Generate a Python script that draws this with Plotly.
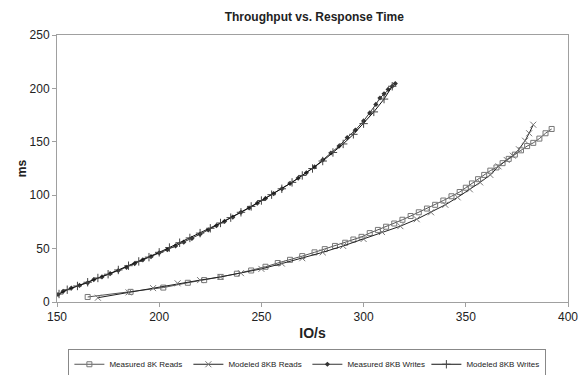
import plotly.graph_objects as go

# Measured 8K Reads
mr_x = [165, 186, 202, 214, 222, 230, 238, 245, 252, 258, 264, 270, 276, 281, 286, 291, 295, 299,
        303, 307, 311, 315, 319, 323, 327, 331, 335, 339, 343, 347, 350, 353, 356, 359, 362, 365,
        368, 371, 374, 377, 380, 383, 386, 389, 392]
mr_y = [4.7, 9.5, 13.5, 18, 20.5, 23.5, 26.5, 29.5, 33, 36.5, 39.5, 43, 46.5, 49.5, 52.5, 55.5, 58.5, 61,
        64.5, 67.5, 70.5, 73.5, 77, 80.5, 84, 87.5, 91, 95, 99, 103, 107, 111, 115, 119, 123, 126,
        130, 134, 138, 142, 146, 149, 153, 158, 162]

# Modeled 8KB Reads
mdr_x = [170, 185, 197, 209, 220, 230, 240, 250, 260, 270, 280, 290, 300, 309, 318, 326, 333, 340,
         346, 352, 357, 362, 366, 370, 373, 376, 379, 381, 383]
mdr_y = [4, 9, 13, 17.5, 20.5, 23.5, 27, 31, 36, 41, 46.5, 52.5, 59, 65.5, 71, 77.5, 84, 91,
         98, 105.5, 112, 119, 127, 133, 137, 143, 151, 158, 166]

# Measured 8KB Writes
mw_x = [150.5, 153, 157, 161, 165, 168, 172, 176, 180, 184, 188, 192, 196, 200, 204, 208, 212, 216,
        220, 224, 228, 232, 236, 240, 244, 248, 252, 256, 260, 264, 268, 272, 276, 280, 284, 288,
        292, 296, 300, 303, 306, 308, 310, 312, 314, 315.5]
mw_y = [7, 10, 13, 15.5, 18, 21, 23.5, 26.5, 29.5, 32.5, 36, 39.5, 42.5, 46, 49, 52.5, 56, 59.5,
        63.5, 67.5, 71.5, 75.5, 79.5, 84, 88, 92.5, 97, 101.5, 106, 111, 116, 121, 126.5, 133, 139.5, 146,
        154, 161, 169.5, 177, 185, 191, 195, 199, 202, 204.5]

# Modeled 8KB Writes
mdw_x = [151, 155, 160, 165, 170, 175, 180, 185, 190, 195, 200, 205, 210, 215, 220, 225, 230, 235,
         240, 245, 250, 255, 260, 265, 270, 275, 280, 285, 290, 295, 300, 305, 310, 314]
mdw_y = [7.5, 11.5, 15, 18.5, 22.5, 26, 30, 34, 38, 42, 46.5, 51, 55.5, 60, 64.5, 69, 74, 79,
         84, 89.5, 95, 100.5, 106, 112, 118.5, 125, 132, 140, 148, 157, 167, 178, 190, 202]

x_ticks = [150, 200, 250, 300, 350, 400]
y_ticks = [0, 50, 100, 150, 200, 250]

fig = go.Figure()
fig.add_trace(go.Scatter(x=mr_x, y=mr_y, mode="lines+markers", name="Measured 8K Reads",
                         line=dict(color="#555555", width=1),
                         marker=dict(symbol="square-open", size=5, color="#777777", line=dict(width=1))))
fig.add_trace(go.Scatter(x=mdr_x, y=mdr_y, mode="lines+markers", name="Modeled 8KB Reads",
                         line=dict(color="#222222", width=1),
                         marker=dict(symbol="x-thin-open", size=6, color="#777777", line=dict(width=1))))
fig.add_trace(go.Scatter(x=mw_x, y=mw_y, mode="lines+markers", name="Measured 8KB Writes",
                         line=dict(color="#333333", width=1),
                         marker=dict(symbol="diamond", size=4, color="#333333")))
fig.add_trace(go.Scatter(x=mdw_x, y=mdw_y, mode="lines+markers", name="Modeled 8KB Writes",
                         line=dict(color="#111111", width=1),
                         marker=dict(symbol="cross-thin-open", size=6, color="#444444", line=dict(width=1))))

font_main = "Liberation Sans Narrow, Liberation Sans, Arial, sans-serif"
axis_common = dict(showgrid=False, zeroline=False, showline=True, mirror=True, automargin=False,
                   linecolor="#a0a0a0", linewidth=1, ticks="outside", ticklen=4,
                   tickcolor="#a0a0a0", tickfont=dict(family="Liberation Sans, Arial", size=12, color="#222222"))

fig.update_layout(
    width=582, height=375,
    paper_bgcolor="white", plot_bgcolor="white",
    margin=dict(l=57, r=14, t=35, b=73),
    title=dict(text="<b>Throughput vs. Response Time</b>", x=0.54, xanchor="center", y=0.955, yanchor="middle",
               font=dict(family=font_main, size=12, color="#222222")),
    xaxis=dict(range=[150, 400], tickvals=x_ticks, title=dict(text="<b>IO/s</b>", standoff=4,
               font=dict(family="Liberation Sans, Arial", size=14, color="#222222")), **axis_common),
    yaxis=dict(range=[0, 250], tickvals=y_ticks, title=dict(text="<b>ms</b>", standoff=0,
               font=dict(family="Liberation Sans, Arial", size=12, color="#222222")), **axis_common),
    legend=dict(orientation="h", x=0.49, xanchor="center", yref="container", y=0.07, yanchor="top",
                bordercolor="#888888", borderwidth=1, bgcolor="white",
                font=dict(family=font_main, size=8, color="#222222"),
                itemwidth=30, entrywidth=74, entrywidthmode="pixels", tracegroupgap=0),
    showlegend=True,
)

fig.write_html("out.html", config={"displayModeBar": False},
               post_script="document.body.style.margin='0';")
